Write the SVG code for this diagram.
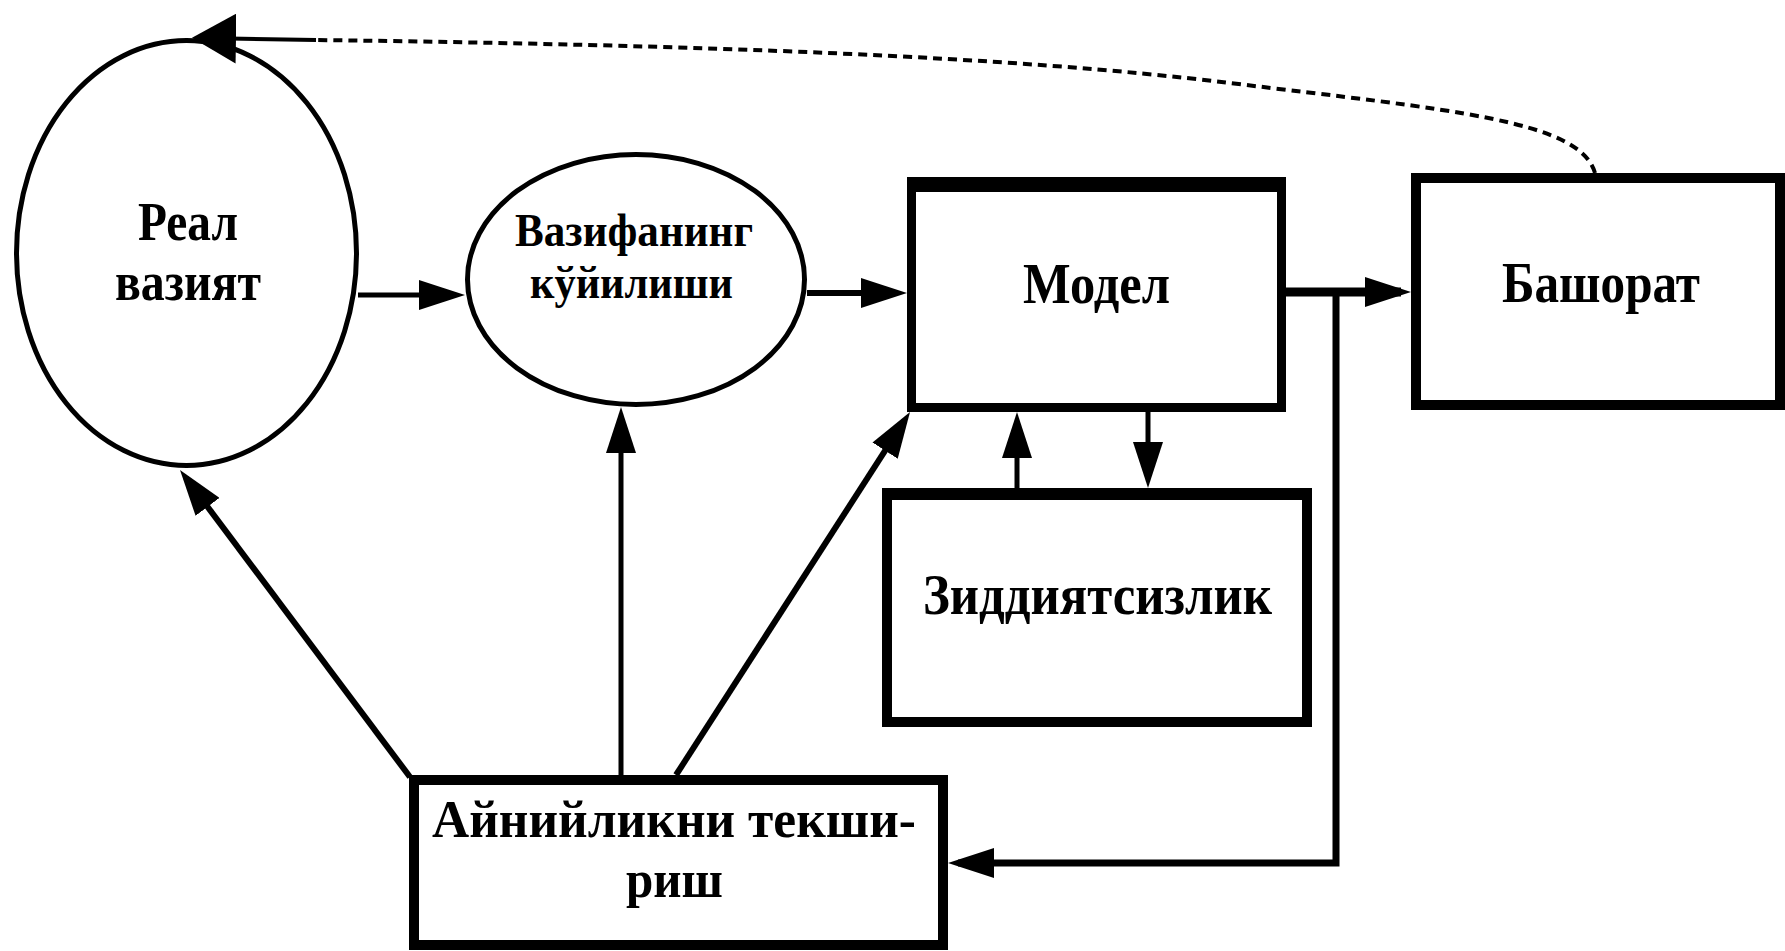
<svg xmlns="http://www.w3.org/2000/svg" width="1785" height="951" viewBox="0 0 1785 951">
  <style>
    .shape { fill: none; stroke: #000; }
    .lbl { font-family: "Liberation Serif", "Times New Roman", serif; font-weight: bold; fill: #000; text-anchor: middle; }
    .conn { fill: none; stroke: #000; stroke-linejoin: miter; }
  </style>
  <defs>
    <marker id="arrow" markerUnits="userSpaceOnUse" viewBox="0 0 46 30" markerWidth="46" markerHeight="30" refX="36" refY="15" orient="auto">
      <path d="M0,0 L46,15 L0,30 z" fill="#000"/>
    </marker>
    <marker id="arrowBig" markerUnits="userSpaceOnUse" viewBox="0 0 44 50" markerWidth="44" markerHeight="50" refX="34" refY="25" orient="auto">
      <path d="M0,0 L44,25 L0,50 z" fill="#000"/>
    </marker>
  </defs>
  <rect x="0" y="0" width="1785" height="951" fill="#fff"/>

  <g id="real-vaziyat">
    <ellipse class="shape" cx="186.5" cy="253" rx="170" ry="212.5" stroke-width="5"/>
    <text class="lbl" x="188" y="240" font-size="54" textLength="100" lengthAdjust="spacingAndGlyphs">Реал</text>
    <text class="lbl" x="188" y="300" font-size="54" textLength="146" lengthAdjust="spacingAndGlyphs">вазият</text>
  </g>

  <g id="vazifa">
    <ellipse class="shape" cx="636" cy="279.5" rx="168.5" ry="125" stroke-width="5"/>
    <text class="lbl" x="634" y="246" font-size="46" textLength="238" lengthAdjust="spacingAndGlyphs">Вазифанинг</text>
    <text class="lbl" x="631.5" y="298" font-size="46" textLength="203" lengthAdjust="spacingAndGlyphs">кўйилиши</text>
  </g>

  <g id="model">
    <rect class="shape" x="911.5" y="181.5" width="370" height="226" stroke-width="9"/>
    <line x1="907" y1="184.5" x2="1286" y2="184.5" stroke="#000" stroke-width="15"/>
    <text class="lbl" x="1096.5" y="303" font-size="58" textLength="147" lengthAdjust="spacingAndGlyphs">Модел</text>
  </g>

  <g id="bashorat">
    <rect class="shape" x="1416" y="178" width="364" height="227" stroke-width="10"/>
    <text class="lbl" x="1601" y="302" font-size="58" textLength="198" lengthAdjust="spacingAndGlyphs">Башорат</text>
  </g>

  <g id="ziddiyatsizlik">
    <rect class="shape" x="887" y="493" width="420" height="229" stroke-width="10"/>
    <line x1="882" y1="494" x2="1312" y2="494" stroke="#000" stroke-width="12"/>
    <text class="lbl" x="1097.5" y="614" font-size="58" textLength="349" lengthAdjust="spacingAndGlyphs">Зиддиятсизлик</text>
  </g>

  <g id="ayniylik">
    <rect class="shape" x="414" y="780" width="529" height="165" stroke-width="10"/>
    <text class="lbl" x="674" y="837" font-size="52" textLength="484" lengthAdjust="spacingAndGlyphs">Айнийликни текши-</text>
    <text class="lbl" x="674.5" y="897" font-size="52" textLength="97" lengthAdjust="spacingAndGlyphs">риш</text>
  </g>

  <g id="connectors">
    <path class="conn" d="M 1595 173 C 1580 120, 1450 110, 1230 83 S 700 45, 316 40" stroke-width="4" stroke-dasharray="9 6"/>
    <line class="conn" x1="316" y1="40" x2="202" y2="38" stroke-width="4" marker-end="url(#arrowBig)"/>
    <line class="conn" x1="358" y1="295" x2="455" y2="295" stroke-width="5" marker-end="url(#arrow)"/>
    <line class="conn" x1="807" y1="293" x2="897" y2="293" stroke-width="6" marker-end="url(#arrow)"/>
    <line class="conn" x1="1286" y1="292" x2="1401" y2="292" stroke-width="9" marker-end="url(#arrow)"/>
    <polyline class="conn" points="1336,292 1336,863 958,863" stroke-width="7" marker-end="url(#arrow)"/>
    <line class="conn" x1="410" y1="777" x2="186" y2="478" stroke-width="6" marker-end="url(#arrow)"/>
    <line class="conn" x1="621" y1="775" x2="621" y2="417" stroke-width="5" marker-end="url(#arrow)"/>
    <line class="conn" x1="676" y1="775" x2="904.6" y2="420.4" stroke-width="6" marker-end="url(#arrow)"/>
    <line class="conn" x1="1017" y1="488" x2="1017" y2="422" stroke-width="5" marker-end="url(#arrow)"/>
    <line class="conn" x1="1148" y1="412" x2="1148" y2="478" stroke-width="5" marker-end="url(#arrow)"/>
  </g>
</svg>
